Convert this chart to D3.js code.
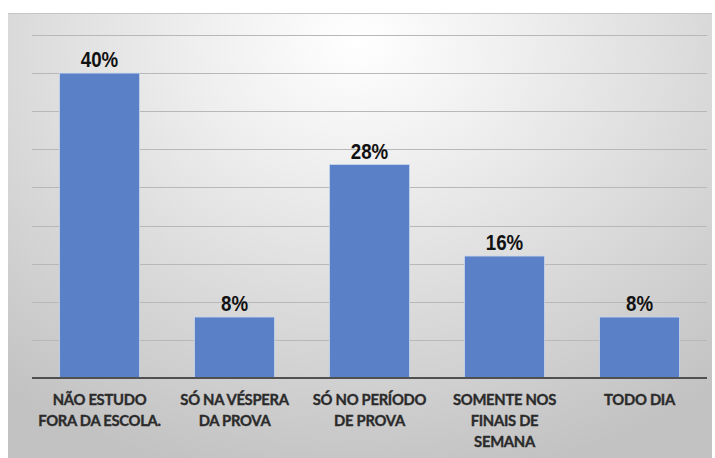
<!DOCTYPE html>
<html><head><meta charset="utf-8">
<script src="https://cdn.jsdelivr.net/npm/d3@7"></script>
<style>body{margin:0;background:#fff}svg{display:block}</style>
</head><body>
<svg id="c" width="715" height="458"></svg>
<script>
const categories = [["NÃO ESTUDO","FORA DA ESCOLA."],["SÓ NA VÉSPERA","DA PROVA"],["SÓ NO PERÍODO","DE PROVA"],["SOMENTE NOS","FINAIS DE","SEMANA"],["TODO DIA"]];
const values = [40, 8, 28, 16, 8];
const valueLabels = ["40%","8%","28%","16%","8%"];
const gridTicks = [5,10,15,20,25,30,35,40,45];

const svg = d3.select("#c");
const defs = svg.append("defs");
const g = defs.append("radialGradient").attr("id","bg").attr("gradientUnits","userSpaceOnUse")
  .attr("cx",357).attr("cy",40).attr("r",560).attr("gradientTransform","matrix(1,0,0,0.8,0,8)");
g.append("stop").attr("offset","0").attr("stop-color","#ffffff");
g.append("stop").attr("offset","0.3").attr("stop-color","#eeeeee");
g.append("stop").attr("offset","1").attr("stop-color","#c2c2c2");
svg.append("rect").attr("x",8).attr("y",13).attr("width",704).attr("height",450).attr("fill","url(#bg)");
svg.append("line").attr("x1",8).attr("x2",712).attr("y1",13.5).attr("y2",13.5).attr("stroke","#c4c4c4");

const x = d3.scaleBand().domain(d3.range(values.length)).range([32,707]).paddingInner(0.407).paddingOuter(0.2035);
const y = d3.scaleLinear().domain([0,45]).range([378,35]);

svg.append("g").selectAll("line").data(gridTicks).join("line")
  .attr("x1",32).attr("x2",707).attr("y1",d=>Math.round(y(d))+0.5).attr("y2",d=>Math.round(y(d))+0.5)
  .attr("stroke","#b8b8b8").attr("stroke-width",1.2);

svg.append("g").selectAll("rect").data(values).join("rect")
  .attr("x",(d,i)=>x(i)).attr("width",x.bandwidth()).attr("y",d=>y(d)).attr("height",d=>y(0)-y(d))
  .attr("fill","#5a80c8").attr("stroke","#c9d6ee").attr("stroke-width",0.8);

svg.append("line").attr("x1",32).attr("x2",707).attr("y1",378).attr("y2",378).attr("stroke","#505050").attr("stroke-width",2);

svg.append("g").selectAll("text").data(values).join("text")
  .attr("transform",(d,i)=>`translate(${x(i)+x.bandwidth()/2},${y(d)-6}) scale(0.85,1)`)
  .attr("text-anchor","middle").attr("font-family","Liberation Sans, Arial, sans-serif")
  .attr("font-weight","bold").attr("font-size",22).attr("fill","#111")
  .text((d,i)=>valueLabels[i]);

const lab = svg.append("g").selectAll("text").data(categories).join("text")
  .attr("x",(d,i)=>x(i)+x.bandwidth()/2).attr("y",405)
  .attr("text-anchor","middle").attr("font-family","Lato, Open Sans, sans-serif")
  .attr("font-weight","bold").attr("font-size",14.8).attr("letter-spacing",-0.3)
  .attr("fill","#2b2b2b").attr("stroke","#2b2b2b").attr("stroke-width",0.35);
lab.selectAll("tspan").data(d=>d).join("tspan")
  .attr("x",function(){return this.parentNode.getAttribute("x");})
  .attr("dy",(d,i)=>i===0?0:21).text(d=>d);
</script>
</body></html>
